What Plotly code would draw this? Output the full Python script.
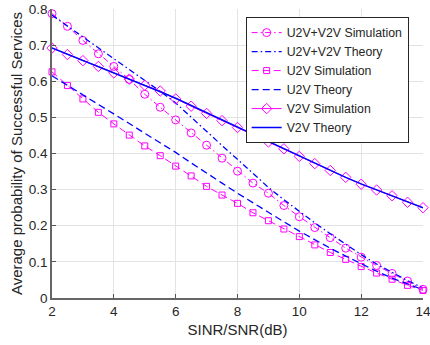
import plotly.graph_objects as go

snr = [2, 2.5, 3, 3.5, 4, 4.5, 5, 5.5, 6, 6.5, 7, 7.5, 8, 8.5, 9, 9.5, 10, 10.5, 11, 11.5, 12, 12.5, 13, 13.5, 14]

u2v_v2v_sim = [0.787, 0.752, 0.713, 0.676, 0.641, 0.605, 0.564, 0.528, 0.493, 0.457, 0.423, 0.387, 0.351,
               0.318, 0.290, 0.256, 0.225, 0.195, 0.167, 0.138, 0.113, 0.090, 0.068, 0.047, 0.024]
u2v_v2v_theory = [0.783, 0.753, 0.723, 0.693, 0.663, 0.633, 0.603, 0.572, 0.540, 0.500, 0.461, 0.422, 0.384,
                  0.345, 0.306, 0.272, 0.239, 0.208, 0.178, 0.149, 0.120, 0.094, 0.070, 0.048, 0.028]
u2v_sim = [0.626, 0.588, 0.551, 0.514, 0.482, 0.451, 0.421, 0.394, 0.365, 0.338, 0.309, 0.285, 0.262,
           0.236, 0.214, 0.191, 0.170, 0.147, 0.126, 0.107, 0.087, 0.069, 0.052, 0.035, 0.021]
u2v_theory = [0.615, 0.589, 0.562, 0.536, 0.509, 0.483, 0.456, 0.430, 0.403, 0.374, 0.345, 0.318, 0.290,
              0.263, 0.237, 0.211, 0.185, 0.161, 0.138, 0.116, 0.094, 0.074, 0.055, 0.038, 0.023]
v2v_sim = [0.692, 0.674, 0.657, 0.641, 0.623, 0.606, 0.589, 0.573, 0.551, 0.531, 0.511, 0.491, 0.472,
           0.452, 0.432, 0.413, 0.392, 0.372, 0.353, 0.334, 0.315, 0.299, 0.283, 0.265, 0.250]
v2v_theory = [0.692, 0.675, 0.658, 0.641, 0.624, 0.607, 0.589, 0.571, 0.553, 0.533, 0.513, 0.492, 0.472,
              0.452, 0.432, 0.412, 0.392, 0.372, 0.353, 0.334, 0.316, 0.299, 0.282, 0.266, 0.250]

x_ticks = [2, 4, 6, 8, 10, 12, 14]
y_ticks = [0, 0.1, 0.2, 0.3, 0.4, 0.5, 0.6, 0.7, 0.8]

MAG = "#FF00FF"
BLUE = "#0000FF"
DASHDOT = "6px,3px,1.5px,3px"
DASH = "7px,4px"
FONT = "Liberation Sans, Arial"
TXT = "#262626"

fig = go.Figure()
fig.add_trace(go.Scatter(x=snr, y=u2v_v2v_sim, name="U2V+V2V Simulation", mode="lines+markers",
                         line=dict(color=MAG, width=1, dash=DASHDOT),
                         marker=dict(symbol="circle-open", size=8, color=MAG, line=dict(width=1)),
                         cliponaxis=False))
fig.add_trace(go.Scatter(x=snr, y=u2v_v2v_theory, name="U2V+V2V Theory", mode="lines",
                         line=dict(color=BLUE, width=1.3, dash=DASHDOT), cliponaxis=False))
fig.add_trace(go.Scatter(x=snr, y=u2v_sim, name="U2V Simulation", mode="lines+markers",
                         line=dict(color=MAG, width=1, dash=DASH),
                         marker=dict(symbol="square-open", size=6, color=MAG, line=dict(width=1)),
                         cliponaxis=False))
fig.add_trace(go.Scatter(x=snr, y=u2v_theory, name="U2V Theory", mode="lines",
                         line=dict(color=BLUE, width=1.3, dash=DASH), cliponaxis=False))
fig.add_trace(go.Scatter(x=snr, y=v2v_sim, name="V2V Simulation", mode="lines+markers",
                         line=dict(color=MAG, width=1),
                         marker=dict(symbol="diamond-open", size=8, color=MAG, line=dict(width=1)),
                         cliponaxis=False))
fig.add_trace(go.Scatter(x=snr, y=v2v_theory, name="V2V Theory", mode="lines",
                         line=dict(color=BLUE, width=1.5), cliponaxis=False))

axis_common = dict(showgrid=True, gridcolor="#e3e3e3", gridwidth=1, zeroline=False,
                   showline=True, linecolor="#666666", linewidth=1.5,
                   ticks="inside", ticklen=4, tickcolor="#555555",
                   ticklabeloverflow="allow", automargin=False,
                   tickfont=dict(family=FONT, size=13.5, color=TXT))

fig.update_layout(
    width=430, height=345,
    margin=dict(l=52, r=7, t=9, b=47),
    paper_bgcolor="white", plot_bgcolor="white",
    font=dict(family=FONT, color=TXT),
    showlegend=True,
    legend=dict(x=0.522, y=0.972, xanchor="left", yanchor="top",
                bgcolor="white", bordercolor=TXT, borderwidth=1,
                font=dict(family=FONT, size=12.3, color=TXT),
                tracegroupgap=0, itemwidth=30),
    xaxis=dict(range=[2, 14], tickvals=x_ticks, ticktext=[str(v) for v in x_ticks],
               title=dict(text="SINR/SNR(dB)", standoff=7,
                          font=dict(family=FONT, size=15, color=TXT)),
               **axis_common),
    yaxis=dict(range=[0, 0.8], tickvals=y_ticks, ticktext=[f"{v:g}" for v in y_ticks],
               title=dict(text="Average probability of Successful Services", standoff=3,
                          font=dict(family=FONT, size=15, color=TXT)),
               **axis_common),
)

fig.write_html("out.html")
